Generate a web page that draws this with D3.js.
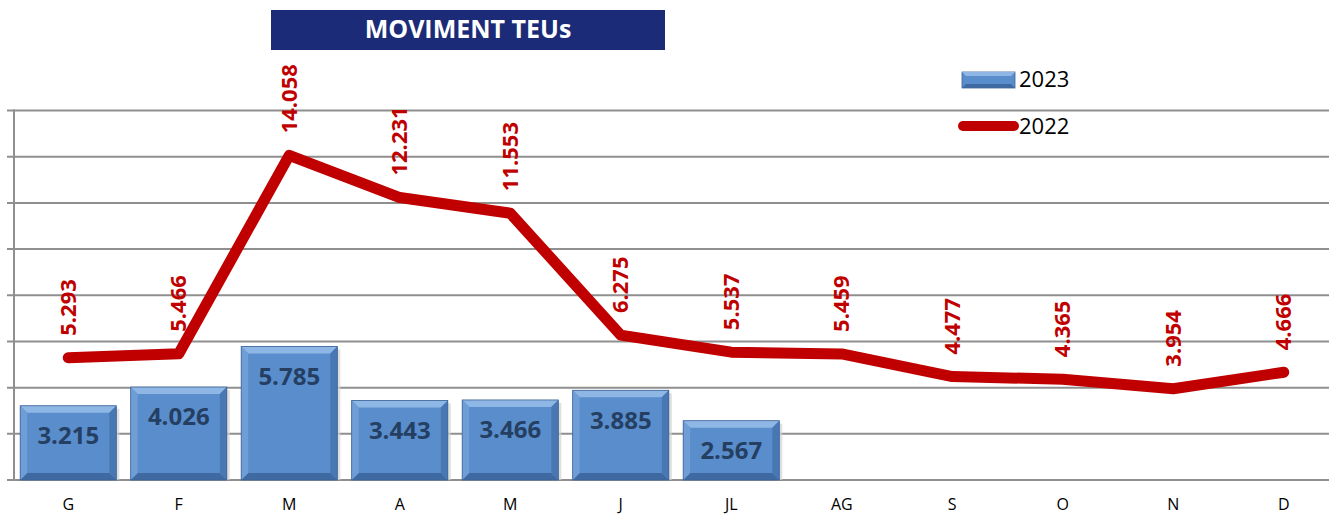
<!DOCTYPE html>
<html>
<head>
<meta charset="utf-8">
<script src="https://cdn.jsdelivr.net/npm/d3@7"></script>
<style>
  body { margin: 0; background: #fff; }
  text { font-family: "Open Sans", sans-serif; }
</style>
</head>
<body>
<div id="chart"></div>
<script>
// month labels (index based, "M" appears twice)
var months = ["G", "F", "M", "A", "M", "J", "JL", "AG", "S", "O", "N", "D"];
var teus2023 = [3215, 4026, 5785, 3443, 3466, 3885, 2567];
var teus2022 = [5293, 5466, 14058, 12231, 11553, 6275, 5537, 5459, 4477, 4365, 3954, 4666];
var yTicks = [0, 2000, 4000, 6000, 8000, 10000, 12000, 14000, 16000];

var width = 1329, height = 515;

var svg = d3.select("#chart").append("svg")
    .attr("width", width)
    .attr("height", height);

// dots as thousands separator
var locale = d3.formatLocale({decimal: ",", thousands: ".", grouping: [3], currency: ["", "€"]});
var fmt = locale.format(",d");

var x = d3.scaleBand()
    .domain(d3.range(months.length))
    .range([13, 1339])
    .paddingInner(0.13)
    .paddingOuter(0.065);

var y = d3.scaleLinear()
    .domain([0, 16000])
    .range([480, 110.5]);

var cx = function(i) { return x(i) + x.bandwidth() / 2; };

// gridlines + y axis
var grid = svg.append("g");
grid.selectAll("line.grid")
    .data(yTicks)
    .enter().append("line")
    .attr("class", "grid")
    .attr("x1", 7).attr("x2", width)
    .attr("y1", function(d) { return y(d); })
    .attr("y2", function(d) { return y(d); })
    .attr("stroke", "#8f8f8f")
    .attr("stroke-width", 2);

grid.append("line")
    .attr("x1", 14).attr("x2", 14)
    .attr("y1", y(16000) - 1).attr("y2", y(0) + 1)
    .attr("stroke", "#8f8f8f")
    .attr("stroke-width", 2);

// bars 2023 with a bevel look
var bev = 7;
var bars = svg.append("g").selectAll("g.bar")
    .data(teus2023)
    .enter().append("g")
    .attr("class", "bar");

bars.each(function(d, i) {
    var g = d3.select(this);
    var x0 = x(i), x1 = x(i) + x.bandwidth();
    var y0 = y(d), y1 = y(0);

    g.append("rect")
        .attr("x", x0 + 3).attr("y", y0 + 3)
        .attr("width", x1 - x0).attr("height", y1 - y0 - 3)
        .attr("fill", "#d2d2d2").attr("opacity", 0.7);

    g.append("rect")
        .attr("x", x0).attr("y", y0)
        .attr("width", x1 - x0).attr("height", y1 - y0)
        .attr("fill", "#5a8dcc");

    var faces = [
        {pts: [[x0, y0], [x1, y0], [x1 - bev, y0 + bev], [x0 + bev, y0 + bev]], c: "#8fb7e6"},
        {pts: [[x0, y1], [x1, y1], [x1 - bev, y1 - bev], [x0 + bev, y1 - bev]], c: "#3f6aa1"},
        {pts: [[x0, y0], [x0 + bev, y0 + bev], [x0 + bev, y1 - bev], [x0, y1]], c: "#6f9dd6"},
        {pts: [[x1, y0], [x1 - bev, y0 + bev], [x1 - bev, y1 - bev], [x1, y1]], c: "#4877b4"}
    ];
    faces.forEach(function(f) {
        g.append("polygon")
            .attr("points", f.pts.map(function(p) { return p.join(","); }).join(" "))
            .attr("fill", f.c);
    });

    g.append("rect")
        .attr("x", x0).attr("y", y0)
        .attr("width", x1 - x0).attr("height", y1 - y0)
        .attr("fill", "none")
        .attr("stroke", "#3b6396")
        .attr("stroke-width", 0.8);

    g.append("text")
        .attr("x", (x0 + x1) / 2)
        .attr("y", y0 + 30)
        .attr("dy", "0.35em")
        .attr("text-anchor", "middle")
        .attr("font-size", 24)
        .attr("font-weight", "bold")
        .attr("fill", "#243f62")
        .text(fmt(d));
});

// line 2022
var line = d3.line()
    .x(function(d, i) { return cx(i); })
    .y(function(d) { return y(d); });

svg.append("path")
    .datum(teus2022)
    .attr("d", line)
    .attr("fill", "none")
    .attr("stroke", "#c00000")
    .attr("stroke-width", 11)
    .attr("stroke-linejoin", "round")
    .attr("stroke-linecap", "round");

svg.append("g").selectAll("text")
    .data(teus2022)
    .enter().append("text")
    .attr("transform", function(d, i) {
        return "translate(" + cx(i) + "," + (y(d) - 22) + ") rotate(-90)";
    })
    .attr("dy", "0.35em")
    .attr("font-size", 22)
    .attr("font-weight", "bold")
    .attr("fill", "#c00000")
    .text(function(d) { return fmt(d); });

// x labels
svg.append("g").selectAll("text")
    .data(months)
    .enter().append("text")
    .attr("x", function(d, i) { return cx(i); })
    .attr("y", 510)
    .attr("text-anchor", "middle")
    .attr("font-size", 16)
    .attr("fill", "#000")
    .text(function(d) { return d; });

// title box
svg.append("rect")
    .attr("x", 271).attr("y", 10)
    .attr("width", 394).attr("height", 40)
    .attr("fill", "#1b2b78");

svg.append("text")
    .attr("x", 468).attr("y", 38)
    .attr("text-anchor", "middle")
    .attr("font-size", 25)
    .attr("font-weight", "bold")
    .attr("fill", "#fff")
    .text("MOVIMENT TEUs");

// legend
var legend = svg.append("g");
legend.append("rect")
    .attr("x", 962).attr("y", 72)
    .attr("width", 53).attr("height", 16)
    .attr("fill", "#5a8dcc")
    .attr("stroke", "#3b6396")
    .attr("stroke-width", 0.8);
legend.append("polygon")
    .attr("points", "962,72 1015,72 1011,76 966,76")
    .attr("fill", "#8fb7e6");
legend.append("polygon")
    .attr("points", "962,88 1015,88 1011,84 966,84")
    .attr("fill", "#3f6aa1");
legend.append("text")
    .attr("x", 1019).attr("y", 87)
    .attr("font-size", 22)
    .attr("fill", "#000")
    .text("2023");

legend.append("line")
    .attr("x1", 963).attr("x2", 1014)
    .attr("y1", 126).attr("y2", 126)
    .attr("stroke", "#c00000")
    .attr("stroke-width", 10)
    .attr("stroke-linecap", "round");
legend.append("text")
    .attr("x", 1019).attr("y", 134)
    .attr("font-size", 22)
    .attr("fill", "#000")
    .text("2022");
</script>
</body>
</html>
